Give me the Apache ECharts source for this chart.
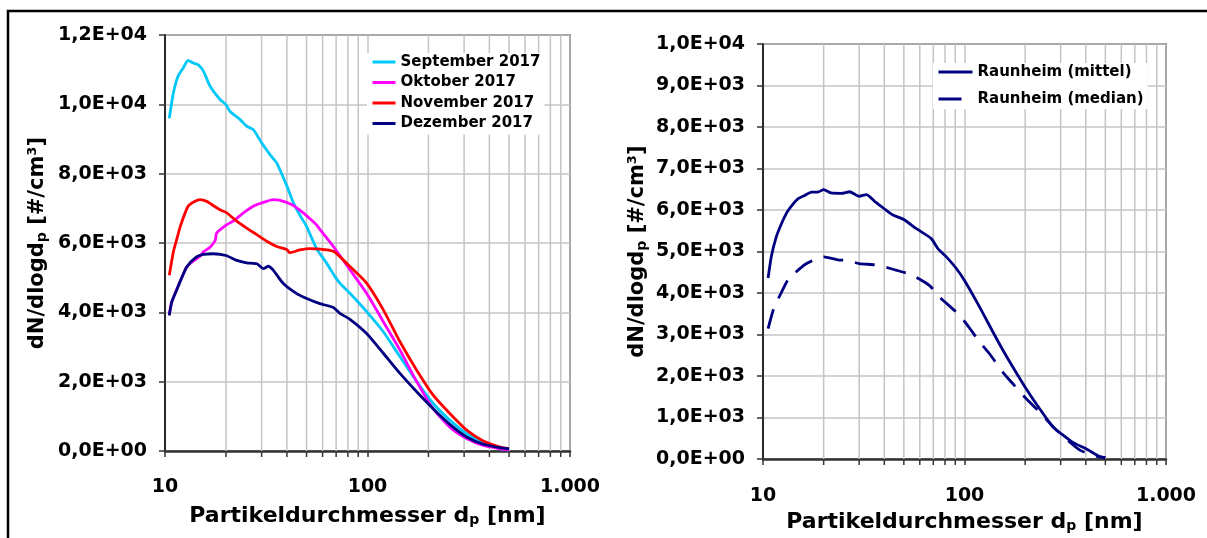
<!DOCTYPE html>
<html>
<head>
<meta charset="utf-8">
<script src="https://cdn.jsdelivr.net/npm/echarts@6/dist/echarts.min.js"></script>
<style>
html,body{margin:0;padding:0;background:#fff;}
#c{width:1207px;height:538px;}
</style>
</head>
<body>
<div id="c"></div>
<script>
// ---- data ----
const sepD = [10.5, 11.0, 11.6, 12.3, 13.0, 13.8, 14.6, 15.5, 16.7, 18.7, 20, 20.9, 23.5, 25.3, 27.3, 30, 33, 35.6, 40, 43.1, 46.4, 50, 56.1, 62.8, 69.1, 73.1, 81.9, 99, 119.7, 144.7, 175, 211, 255, 309, 373, 451, 500];
const sepV = [9600, 10330, 10810, 11050, 11270, 11190, 11140, 10950, 10520, 10140, 9990, 9800, 9560, 9370, 9270, 8890, 8550, 8310, 7640, 7150, 6800, 6480, 5830, 5420, 5030, 4840, 4550, 4020, 3440, 2720, 2000, 1370, 890, 500, 240, 70, 30];

const oktD = [10.5, 10.8, 11.4, 12.0, 12.8, 13.8, 14.9, 15.5, 16.7, 17.7, 18.0, 20.2, 21.7, 24.4, 27.3, 30.6, 34.3, 37, 42.2, 48.2, 52, 56.1, 58.2, 67.8, 81.9, 99, 119.7, 144.7, 175, 211, 255, 309, 373, 451, 500];
const oktV = [3950, 4300, 4650, 4950, 5310, 5480, 5620, 5750, 5880, 6080, 6290, 6530, 6630, 6870, 7060, 7170, 7250, 7230, 7110, 6870, 6700, 6520, 6390, 5900, 5230, 4550, 3730, 2910, 2000, 1220, 690, 360, 160, 65, 30];

const novD = [10.5, 11.0, 11.4, 11.9, 13.0, 14.0, 14.9, 16.1, 17.0, 18.7, 20.2, 22.6, 25.3, 28.4, 31.8, 35.6, 39.9, 41.4, 46.4, 52, 56.1, 67.8, 81.9, 99, 119.7, 144.7, 175, 211, 255, 309, 373, 451, 500];
const novV = [5070, 5750, 6080, 6480, 7060, 7200, 7250, 7200, 7110, 6960, 6870, 6630, 6430, 6240, 6050, 5900, 5810, 5720, 5800, 5840, 5830, 5760, 5320, 4840, 4070, 3150, 2330, 1610, 1080, 600, 290, 115, 70];

const dezD = [10.5, 10.8, 11.4, 12.0, 12.8, 14.3, 15.5, 17.3, 20, 22.6, 25.3, 28.4, 30.6, 32.4, 34.3, 38.4, 44.7, 50.1, 58.2, 67.8, 73.1, 81.9, 99, 119.7, 144.7, 175, 211, 255, 309, 373, 451, 500];
const dezV = [3910, 4300, 4630, 4950, 5310, 5600, 5670, 5690, 5640, 5500, 5430, 5400, 5260, 5330, 5210, 4830, 4540, 4400, 4250, 4140, 3970, 3800, 3390, 2820, 2240, 1710, 1220, 770, 405, 195, 95, 60];

const mitD = [10.6, 11.0, 11.6, 12.3, 13.1, 13.8, 14.9, 16.1, 17.4, 18.7, 20, 21.8, 24.5, 26.9, 30, 32.6, 35.8, 40, 44.1, 50, 57.7, 68.4, 73.8, 81.3, 91.1, 100, 118.9, 138.4, 155.2, 174, 200, 236, 275, 300, 345, 403, 468, 500];
const mitV = [4360, 4880, 5330, 5650, 5930, 6090, 6270, 6350, 6430, 6430, 6490, 6410, 6400, 6440, 6330, 6370, 6210, 6030, 5880, 5770, 5550, 5310, 5070, 4870, 4590, 4300, 3660, 3060, 2620, 2210, 1730, 1210, 770, 620, 400, 240, 60, 30];

const medD = [10.6, 11.3, 12.3, 13.3, 14.3, 16.1, 18.0, 20, 23.5, 26.4, 30, 35.8, 40, 45, 54.4, 67.1, 75.2, 91.1, 102, 118.9, 133.3, 155.2, 174, 202.6, 236, 275, 320, 372, 420, 470, 500];
const medV = [3140, 3620, 4000, 4320, 4470, 4680, 4800, 4870, 4800, 4780, 4710, 4680, 4630, 4560, 4440, 4180, 3900, 3540, 3260, 2820, 2530, 2090, 1810, 1450, 1130, 780, 480, 220, 110, 50, 30];

const leftNames = ['September 2017', 'Oktober 2017', 'November 2017', 'Dezember 2017'];
const rightNames = ['Raunheim (mittel)', 'Raunheim (median)'];
const minorGrid = [20, 30, 40, 50, 60, 70, 80, 90, 200, 300, 400, 500, 600, 700, 800, 900];
const leftYMax = 12000, leftYStep = 2000;
const rightYMax = 10000, rightYStep = 1000;
const xMin = 10, xMax = 1000;
const xTitle = '{t|Partikeldurchmesser d}{s|p}{t| [nm]}';
const yTitle = '{t|dN/dlogd}{s|p}{t| [#/cm³]}';

// ---- helpers ----
const zip = (d, v) => d.map((x, i) => [x, v[i]]);
const FONT = '"DejaVu Sans", sans-serif';
function sci(v) {
  if (v === 0) return '0,0E+00';
  const e = Math.floor(Math.log10(v) + 1e-9);
  const m = v / Math.pow(10, e);
  return m.toFixed(1).replace('.', ',') + 'E+' + String(e).padStart(2, '0');
}
function xFmt(v) {
  return String(Math.round(v)).replace(/\B(?=(\d{3})+(?!\d))/g, '.');
}
function gridItem(params, api) {
  const d = api.value(0);
  const p0 = api.coord([d, api.value(1)]);
  const p1 = api.coord([d, api.value(2)]);
  return {
    type: 'group', children: [
      { type: 'line', shape: { x1: p0[0], y1: p0[1], x2: p1[0], y2: p1[1] }, style: { stroke: '#c4c4c4', lineWidth: 1.5 } },
      { type: 'line', shape: { x1: p0[0], y1: p0[1], x2: p0[0], y2: p0[1] + 6 }, style: { stroke: '#333', lineWidth: 1.5 } }
    ]
  };
}
const richT = {
  t: { fontFamily: FONT, fontWeight: 'bold', fontSize: 22, color: '#000' },
  s: { fontFamily: FONT, fontWeight: 'bold', fontSize: 14, color: '#000', verticalAlign: 'bottom', padding: [8, 0, 0, 0] }
};
const richY = {
  t: { fontFamily: FONT, fontWeight: 'bold', fontSize: 21, color: '#000' },
  s: { fontFamily: FONT, fontWeight: 'bold', fontSize: 14, color: '#000', verticalAlign: 'bottom', padding: [8, 0, 0, 0] }
};
function xAxisCfg(gi, gap, lblMargin) {
  return {
    type: 'log', logBase: 10, min: xMin, max: xMax, gridIndex: gi,
    name: xTitle, nameLocation: 'middle', nameGap: gap,
    nameTextStyle: { rich: richT },
    axisLine: { show: true, lineStyle: { color: '#333', width: 2.5 } },
    axisTick: { show: true, inside: false, length: 6, lineStyle: { color: '#333', width: 1.5 } },
    axisLabel: { formatter: xFmt, fontFamily: FONT, fontWeight: 'bold', fontSize: 19, color: '#000', margin: lblMargin },
    splitLine: { show: true, lineStyle: { color: '#c4c4c4', width: 1.5 } },
    minorTick: { show: false }
  };
}
function yAxisCfg(gi, max, step, gap) {
  return {
    type: 'value', min: 0, max: max, interval: step, gridIndex: gi,
    name: yTitle, nameLocation: 'middle', nameGap: gap, nameRotate: 90,
    nameTextStyle: { rich: richY },
    axisLine: { show: true, lineStyle: { color: '#000', width: 1.5 } },
    axisTick: { show: true, inside: false, length: 6, lineStyle: { color: '#333', width: 1.5 } },
    axisLabel: { formatter: sci, fontFamily: FONT, fontWeight: 'bold', fontSize: 19, color: '#000', margin: 18 },
    splitLine: { show: true, lineStyle: { color: '#c4c4c4', width: 1.5 } }
  };
}
function lineSeries(name, data, color, gi, dash) {
  return {
    name: name, type: 'line', data: data, xAxisIndex: gi, yAxisIndex: gi,
    showSymbol: false, symbol: 'none', smooth: 0.2, z: 3,
    lineStyle: { color: color, width: 2.8, type: dash || 'solid' },
    itemStyle: { color: color }
  };
}

const chart = echarts.init(document.getElementById('c'), null, { renderer: 'canvas' });
chart.setOption({
  animation: false,
  backgroundColor: '#fff',
  grid: [
    { left: 165, top: 35, width: 405, height: 416, show: true, borderColor: '#222', borderWidth: 1.5, backgroundColor: 'transparent' },
    { left: 763, top: 44, width: 403, height: 415, show: true, borderColor: '#222', borderWidth: 1.5, backgroundColor: 'transparent' }
  ],
  xAxis: [xAxisCfg(0, 54, 27), xAxisCfg(1, 46, 28)],
  yAxis: [yAxisCfg(0, leftYMax, leftYStep, 116), yAxisCfg(1, rightYMax, rightYStep, 114)],
  legend: [
    {
      data: leftNames, orient: 'vertical', left: 367, top: 53, itemWidth: 23, itemHeight: 14, itemGap: 4.5,
      backgroundColor: '#fff', padding: [1, 4, 3, 4],
      itemStyle: { opacity: 0 },
      lineStyle: { width: 3 },
      textStyle: { fontFamily: FONT, fontWeight: 'bold', fontSize: 15, color: '#000', lineHeight: 16 }
    },
    {
      data: [
        { name: rightNames[0] },
        { name: rightNames[1], lineStyle: { type: [23, 20] } }
      ],
      orient: 'vertical', left: 933, top: 63, itemWidth: 34, itemHeight: 14, itemGap: 11,
      backgroundColor: '#fff', padding: [1, 4, 2, 4],
      itemStyle: { opacity: 0 },
      lineStyle: { width: 3 },
      textStyle: { fontFamily: FONT, fontWeight: 'bold', fontSize: 15, color: '#000', lineHeight: 16 }
    }
  ],
  graphic: [
    { type: 'polyline', shape: { points: [[8, 538], [8, 11], [1207, 11]] }, style: { stroke: '#000', lineWidth: 2.5, fill: null }, z: 10 }
  ],
  series: [
    { name: 'g0', type: 'custom', xAxisIndex: 0, yAxisIndex: 0, renderItem: gridItem, clip: false, silent: true, z: 1,
      data: minorGrid.map(d => [d, 0, leftYMax]) },
    { name: 'g1', type: 'custom', xAxisIndex: 1, yAxisIndex: 1, renderItem: gridItem, clip: false, silent: true, z: 1,
      data: minorGrid.map(d => [d, 0, rightYMax]) },
    lineSeries(leftNames[0], zip(sepD, sepV), '#00C8F8', 0),
    lineSeries(leftNames[1], zip(oktD, oktV), '#FF00FF', 0),
    lineSeries(leftNames[2], zip(novD, novV), '#FF0000', 0),
    lineSeries(leftNames[3], zip(dezD, dezV), '#000080', 0),
    lineSeries(rightNames[0], zip(mitD, mitV), '#000080', 1),
    lineSeries(rightNames[1], zip(medD, medV), '#000080', 1, [20, 12])
  ]
});
</script>
</body>
</html>
